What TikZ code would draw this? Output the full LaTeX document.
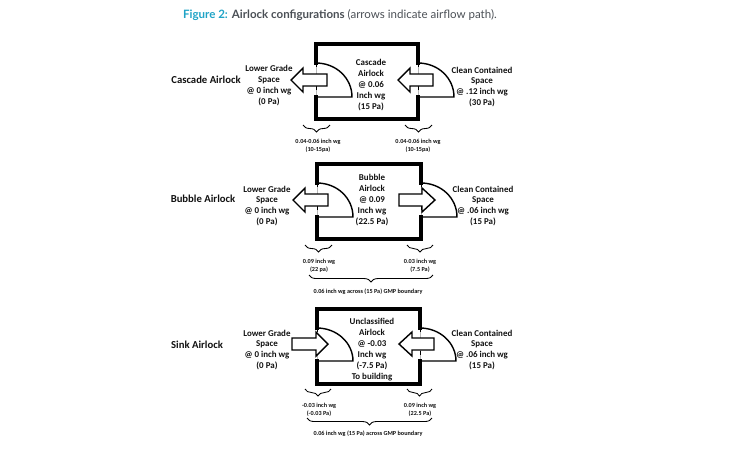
\documentclass[tikz,border=0pt]{standalone}
\usepackage{fontspec}
\setmainfont{Carlito}
\newfontfamily\titlefont{Lato}
\usetikzlibrary{decorations.pathreplacing}
\definecolor{ink}{HTML}{111111}
\definecolor{fig}{HTML}{1FA3C6}
\definecolor{head}{HTML}{4A4F55}
\definecolor{door}{HTML}{B8B8B8}

\begin{document}
\begin{tikzpicture}[x=0.025cm,y=-0.025cm,
  text=ink,
  wall/.style={line width=2.3pt, draw=black, line cap=rect},
  swing/.style={line width=1pt, draw=black},
  flow/.style={line width=1pt, draw=black, fill=white, line join=miter},
  rowlabel/.style={font=\fontsize{7.6}{9}\selectfont\bfseries},
  space/.style={font=\fontsize{6.35}{7.8}\selectfont\bfseries, align=center},
  diff/.style={font=\fontsize{4.4}{6}\selectfont\bfseries, align=center},
  brc/.style={decorate, decoration={brace, mirror, amplitude=5pt}, line width=0.6pt, draw=black}]

\useasboundingbox (0,0) rectangle (750,450);

% ------------------------------------------------------------------ title
\node (title) at (340,15.5)
  {\titlefont\fontsize{8.2}{9}\selectfont\textcolor{fig}{\textbf{Figure 2:}} \textcolor{head}{\textbf{Airlock configurations} (arrows indicate airflow path).}};

% ------------------------------------------------------------------ rooms
% left wall / right wall / top / bottom / door top / door bottom
\foreach \xa/\xb/\yt/\yb/\ga/\gb in {316/418/44/119/63/97, 317/421/164/239/183/217, 317/420/309/384/328/361} {
  \draw[door, line width=0.5pt] (\xa,\ga) -- (\xa,\gb) (\xb,\ga) -- (\xb,\gb);
  \draw[black, line width=0.5pt, dash pattern=on 3pt off 5pt] (\xa,\ga) -- (\xa,\gb) (\xb,\ga) -- (\xb,\gb);
  \draw[wall] (\xa,\ga) -- (\xa,\yt) -- (\xb,\yt) -- (\xb,\ga);
  \draw[wall] (\xa,\gb) -- (\xa,\yb) -- (\xb,\yb) -- (\xb,\gb);
  % door swings
  \draw[swing] (\xa,\ga) .. controls (\xa+20,\ga) and (\xa+36,\ga+15) .. (\xa+36,\gb) -- (\xa,\gb);
  \draw[swing] (\xb,\ga) .. controls (\xb+20,\ga) and (\xb+36,\ga+15) .. (\xb+36,\gb) -- (\xb,\gb);
}

% ------------------------------------------------------------------ airflow arrows
% tail / head base / tip / centre
\foreach \tl/\bs/\tp/\yc in {327/303/291/80, 433/410/398/80, 328/305/293/200, 399/422/435/200, 292/316/328/344, 434/412/399/344} {
  \draw[flow] (\tl,\yc-6) -- (\bs,\yc-6) -- (\bs,\yc-12) -- (\tp,\yc)
    -- (\bs,\yc+12) -- (\bs,\yc+6) -- (\tl,\yc+6) -- cycle;
}

% ------------------------------------------------------------------ cascade
\node[rowlabel] (cascade) at (206,80) {Cascade Airlock};
\node[space] (cascadeLow) at (269,85.5) {Lower Grade\\Space\\@ 0 inch wg\\(0 Pa)};
\node[space] (cascadeRoom) at (371,85) {Cascade\\Airlock\\@ 0.06\\Inch wg\\(15 Pa)};
\node[space] (cascadeClean) at (482,87) {Clean Contained\\Space\\@ .12 inch wg\\(30 Pa)};
\draw[brc] (303,125) -- (330,125);
\draw[brc] (405,125) -- (432,125);
\node[diff] (cascadeDpL) at (318,146) {0.04-0.06 inch wg\\(10-15pa)};
\node[diff] (cascadeDpR) at (418,146) {0.04-0.06 inch wg\\(10-15pa)};

% ------------------------------------------------------------------ bubble
\node[rowlabel] (bubble) at (203,199) {Bubble Airlock};
\node[space] (bubbleLow) at (267,206) {Lower Grade\\Space\\@ 0 inch wg\\(0 Pa)};
\node[space] (bubbleRoom) at (372,200) {Bubble\\Airlock\\@ 0.09\\Inch wg\\(22.5 Pa)};
\node[space] (bubbleClean) at (483,206) {Clean Contained\\Space\\@ .06 inch wg\\(15 Pa)};
\draw[brc] (305,245) -- (332,245);
\draw[brc] (407,245) -- (433,245);
\node[diff] (bubbleDpL) at (319,266) {0.09 inch wg\\(22 pa)};
\node[diff] (bubbleDpR) at (420,266) {0.03 inch wg\\(7.5 Pa)};
\draw[brc] (309,275) -- (433,275);
\node[diff] (bubbleGmp) at (368,292) {0.06 inch wg across (15 Pa) GMP boundary};

% ------------------------------------------------------------------ sink
\node[rowlabel] (sink) at (197,345) {Sink Airlock};
\node[space] (sinkLow) at (267,350) {Lower Grade\\Space\\@ 0 inch wg\\(0 Pa)};
\node[space] (sinkRoom) at (372,350) {Unclassified\\Airlock\\@ -0.03\\Inch wg\\(-7.5 Pa)\\To building};
\node[space] (sinkClean) at (482,350) {Clean Contained\\Space\\@ .06 inch wg\\(15 Pa)};
\draw[brc] (305,389) -- (331,389);
\draw[brc] (407,389) -- (432,389);
\node[diff] (sinkDpL) at (319,410) {-0.03 inch wg\\(-0.03 Pa)};
\node[diff] (sinkDpR) at (420,410) {0.09 inch wg\\(22.5 Pa)};
\draw[brc] (307,418) -- (432,418);
\node[diff] (sinkGmp) at (368,434) {0.06 inch wg (15 Pa) across GMP boundary};
\end{tikzpicture}
\end{document}
